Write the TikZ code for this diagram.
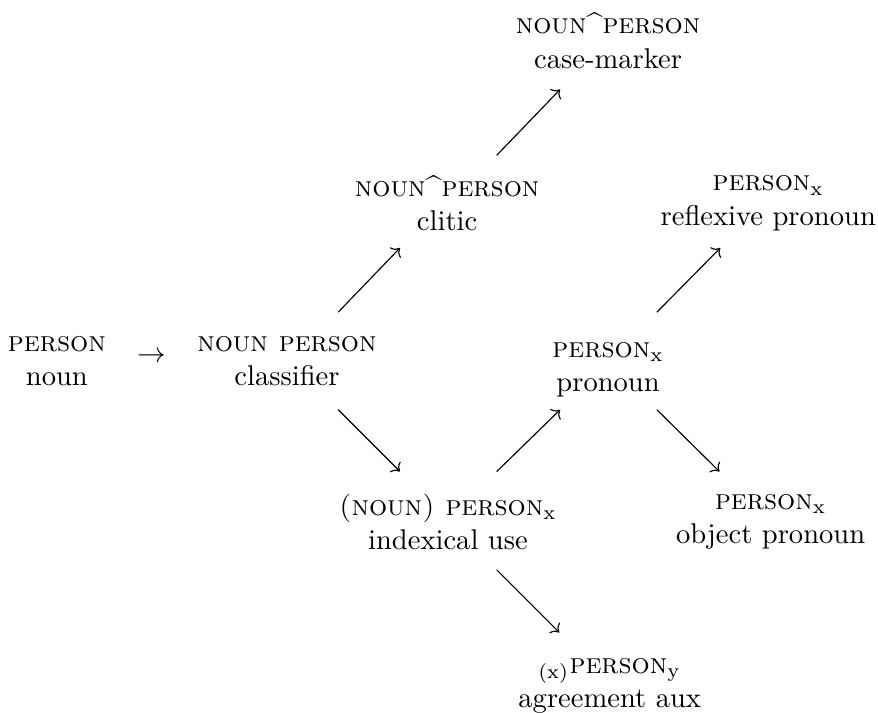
\documentclass[tikz,border=0pt]{standalone}
\usepackage{amsmath}
\usepackage{tikz}
\usetikzlibrary{arrows.meta,positioning}
\tikzset{
  lex/.style={align=center,inner sep=0pt,font=\normalsize},
  link/.style={->,thin,color=black},
}

\begin{document}
\begin{tikzpicture}
  \useasboundingbox (0,0) rectangle (10.80,-8.77);
  \node[lex] (noun) at (0.70,-4.44){\textsc{person}\\noun};
  \node[lex] (arr) at (1.87,-4.39){$\rightarrow$};
  \node[lex] (cls) at (3.53,-4.44){\textsc{noun person}\\classifier};
  \node[lex] (clt) at (5.50,-2.50){\textsc{noun}\^{}\textsc{person}\\clitic};
  \node[lex] (cm) at (7.48,-0.50){\textsc{noun}\^{}\textsc{person}\\case-marker};
  \node[lex] (idx) at (5.51,-6.42){\textsc{(noun) person}$_\mathrm{x}$\\indexical use};
  \node[lex] (pro) at (7.48,-4.55){\textsc{person}$_\mathrm{x}$\\pronoun};
  \node[lex] (refl) at (9.45,-2.50){\textsc{person}$_\mathrm{x}$\\reflexive pronoun};
  \node[lex] (obj) at (9.48,-6.42){\textsc{person}$_\mathrm{x}$\\object pronoun};
  \node[lex] (agr) at (7.50,-8.44){$_\mathrm{(x)}$\textsc{person}$_\mathrm{y}$\\agreement aux};
  % grammaticalization paths
  \draw[link] ([shift={(0.63,0.60)}]cls.center)--([shift={(-0.58,-0.55)}]clt.center);
  \draw[link] ([shift={(0.61,0.59)}]clt.center)--([shift={(-0.59,-0.60)}]cm.center);
  \draw[link] ([shift={(0.63,-0.60)}]cls.center)--([shift={(-0.59,0.62)}]idx.center);
  \draw[link] ([shift={(0.60,0.62)}]idx.center)--([shift={(-0.59,-0.49)}]pro.center);
  \draw[link] ([shift={(0.60,0.71)}]pro.center)--([shift={(-0.59,-0.55)}]refl.center);
  \draw[link] ([shift={(0.60,-0.49)}]pro.center)--([shift={(-0.63,0.62)}]obj.center);
  \draw[link] ([shift={(0.60,-0.59)}]idx.center)--([shift={(-0.62,0.66)}]agr.center);
\end{tikzpicture}
\end{document}
